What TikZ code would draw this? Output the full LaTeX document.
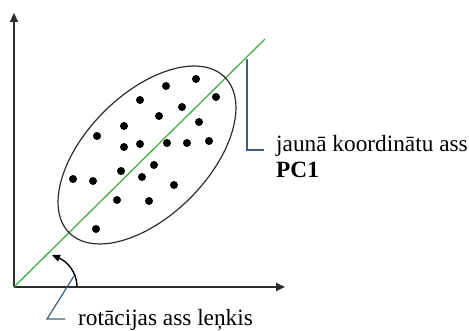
\documentclass[tikz,border=0pt]{standalone}
\usepackage{fontspec}
\setmainfont{Liberation Serif}
\usetikzlibrary{arrows.meta}
\definecolor{axisgray}{RGB}{45,45,45}
\definecolor{pcgreen}{RGB}{70,175,70}
\definecolor{leaderblue}{RGB}{65,95,125}
\tikzset{
  axisline/.style={draw=axisgray, line width=2pt, -{Triangle[length=9pt,width=8pt]}},
  pcline/.style={draw=pcgreen, line width=1.3pt},
  cloud/.style={draw=axisgray, line width=1.2pt},
  datapt/.style={fill=black, circle, inner sep=0pt, minimum size=8pt},
  leader/.style={draw=leaderblue, line width=1.2pt},
  anglearrow/.style={draw=black, line width=1.4pt, -{Triangle[length=8pt,width=7pt]}},
  lbl/.style={font=\fontsize{23.3}{26}\selectfont, inner sep=0pt}
}
\begin{document}
\begin{tikzpicture}[x=1pt,y=1pt]
\useasboundingbox (0,0) rectangle (469,331);

% axes
\coordinate (O) at (14,44);
\coordinate (ytop) at (14,318);
\coordinate (xend) at (285,44);
\draw[axisline] (O) -- (ytop);
\draw[axisline] (O) -- (xend);

% first principal component direction
\coordinate (pcend) at (265,292);
\draw[pcline] (O) -- (pcend);

% ellipse around the point cloud
\coordinate (c) at (147,176);
\draw[cloud, rotate around={45:(c)}] (c) ellipse [x radius=110, y radius=61];

% data points
\foreach \px/\py [count=\i] in {196/252,166/245,216/234,140/231,182/224,159/215,124/205,
  199/209,97/195,124/184,140/187,167/188,187/188,209/190,154/166,121/160,142/154,
  73/152,93/150,174/146,117/131,149/130,96/102}
  \node[datapt] (p\i) at (\px,\py) {};

% rotation angle arrow
\coordinate (a0) at (77,44);
\coordinate (a1) at (52,76);
\draw[anglearrow] (a0) .. controls (77,60) and (66,70) .. (a1);

% label: rotation angle
\coordinate (l1a) at (74,55);
\coordinate (l1b) at (47,12);
\coordinate (l1c) at (65,12);
\draw[leader] (l1a) -- (l1b) -- (l1c);
\node[lbl, anchor=base west] (rot) at (78,5) {rotācijas ass leņkis};

% label: new coordinate axis PC1
\coordinate (l2a) at (247,272);
\coordinate (l2b) at (247,181);
\coordinate (l2c) at (264,181);
\draw[leader] (l2a) -- (l2b) -- (l2c);
\node[lbl, anchor=base west] (newax) at (276,179) {jaunā koordinātu ass};
\node[lbl, anchor=base west, font=\fontsize{23.3}{26}\selectfont\bfseries] (pc1) at (276,153) {PC1};
\end{tikzpicture}
\end{document}
